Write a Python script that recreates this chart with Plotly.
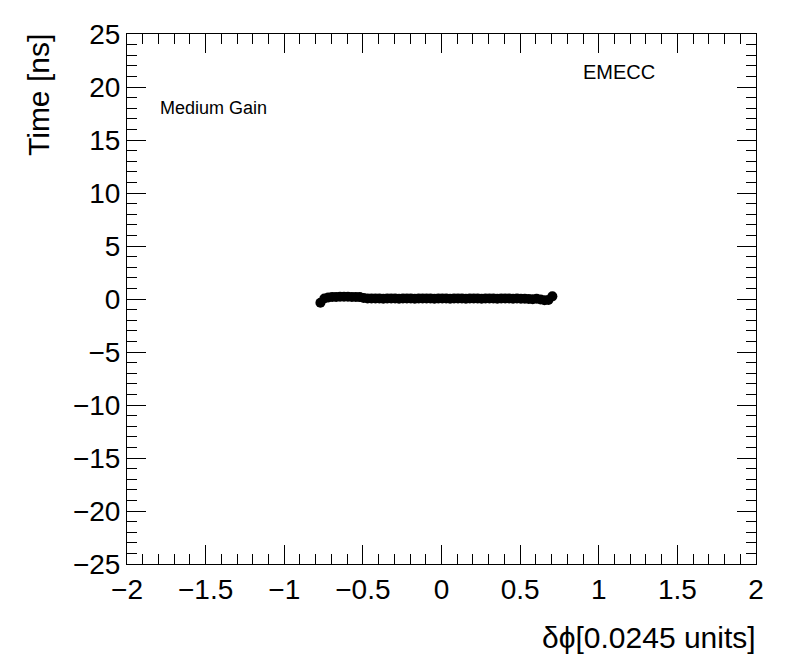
import plotly.graph_objects as go

dphi = [-0.770, -0.745, -0.720, -0.695, -0.670, -0.645, -0.620, -0.595, -0.570, -0.545,
        -0.520, -0.495, -0.470, -0.445, -0.420, -0.395, -0.370, -0.345, -0.320, -0.295,
        -0.270, -0.245, -0.220, -0.195, -0.170, -0.145, -0.120, -0.095, -0.070, -0.045,
        -0.020, 0.005, 0.030, 0.055, 0.080, 0.105, 0.130, 0.155, 0.180, 0.205,
        0.230, 0.255, 0.280, 0.305, 0.330, 0.355, 0.380, 0.405, 0.430, 0.455,
        0.480, 0.505, 0.530, 0.555, 0.580, 0.605, 0.630, 0.655, 0.680, 0.705]
time_ns = [-0.35, 0.05, 0.15, 0.20, 0.20, 0.22, 0.21, 0.22, 0.20, 0.20,
           0.18, 0.10, 0.05, 0.04, 0.05, 0.04, 0.03, 0.04, 0.05, 0.04,
           0.03, 0.04, 0.05, 0.04, 0.03, 0.04, 0.05, 0.04, 0.04, 0.03,
           0.04, 0.05, 0.04, 0.03, 0.04, 0.05, 0.04, 0.03, 0.04, 0.05,
           0.04, 0.03, 0.04, 0.05, 0.04, 0.03, 0.04, 0.05, 0.04, 0.03,
           0.04, 0.03, 0.02, 0.00, -0.03, 0.02, -0.05, -0.12, -0.10, 0.25]

FONT = "Liberation Sans, Arial, Helvetica, sans-serif"

fig = go.Figure()
fig.add_trace(go.Scatter(x=dphi, y=time_ns, mode="markers",
                         marker=dict(symbol="circle", size=10, color="black"),
                         showlegend=False, hoverinfo="x+y"))

axis_common = dict(showgrid=False, zeroline=False, showline=True, linecolor="black",
                   linewidth=1, mirror="allticks", ticks="inside", ticklen=19,
                   tickwidth=1, tickcolor="black",
                   tickfont=dict(family=FONT, size=28, color="black"))

fig.update_xaxes(range=[-2, 2], dtick=0.5, tick0=-2,
                 minor=dict(dtick=0.1, ticks="inside", ticklen=10, tickcolor="black", showgrid=False),
                 **axis_common)
fig.update_yaxes(range=[-25, 25], dtick=5, tick0=-25,
                 minor=dict(dtick=1, ticks="inside", ticklen=10, tickcolor="black", showgrid=False),
                 **axis_common)

# page body has an 8px margin: shift everything accordingly
OFF = 8
L, R, T, B = 127 - OFF, 40, 34 - OFF, 108
W, H = 796 - OFF, 672 - OFF
pw, ph = W - L - R, H - T - B


def px(xp):
    return (xp - OFF - L) / pw


def py(yp):
    return (H - B - (yp - OFF)) / ph


fig.update_layout(
    width=W, height=H,
    margin=dict(l=L, r=R, t=T, b=B, pad=0),
    paper_bgcolor="white", plot_bgcolor="white",
    font=dict(family=FONT, color="black"),
    annotations=[
        dict(text="δϕ[0.0245 units]", xref="paper", yref="paper",
             x=px(758), y=py(637), xanchor="right", yanchor="middle",
             showarrow=False, font=dict(family=FONT, size=30)),
        dict(text="Time [ns]", xref="paper", yref="paper", textangle=-90,
             x=px(38), y=py(32), xanchor="center", yanchor="top",
             showarrow=False, font=dict(family=FONT, size=30)),
        dict(text="Medium Gain", xref="paper", yref="paper",
             x=px(158), y=py(108), xanchor="left", yanchor="middle",
             showarrow=False, font=dict(family=FONT, size=18)),
        dict(text="EMECC", xref="paper", yref="paper",
             x=px(581), y=py(72), xanchor="left", yanchor="middle",
             showarrow=False, font=dict(family=FONT, size=20)),
    ],
)

fig.write_html("out.html")
